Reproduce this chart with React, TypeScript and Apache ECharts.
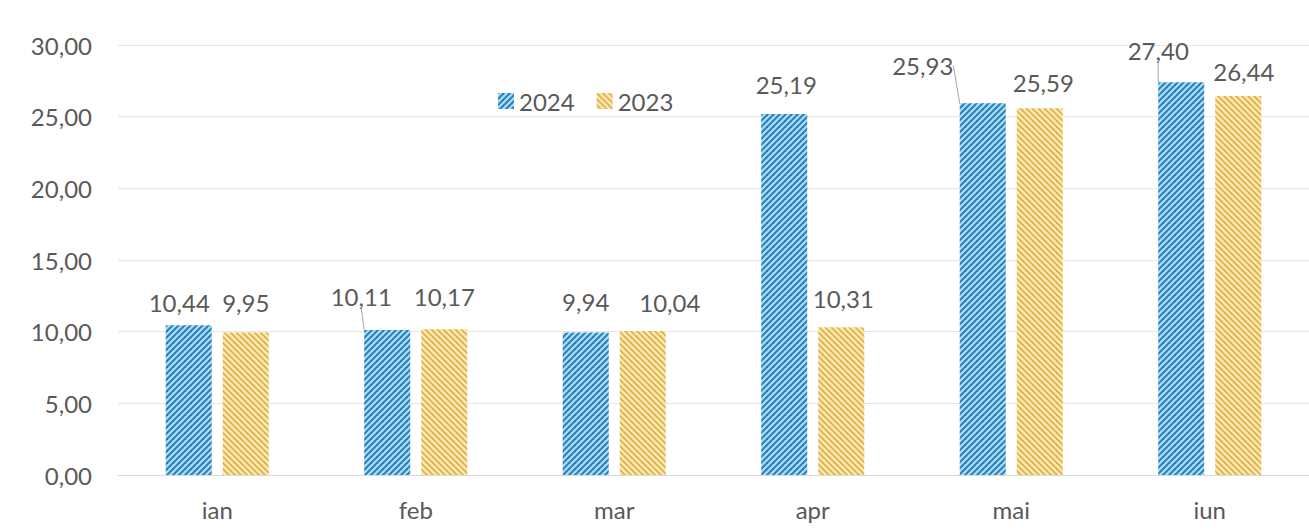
import React, { useEffect, useRef } from "react";
import * as echarts from "echarts";

const categories = ["ian", "feb", "mar", "apr", "mai", "iun"];
const seriesNames = ["2024", "2023"];
const values2024 = [10.44, 10.11, 9.94, 25.19, 25.93, 27.4];
const values2023 = [9.95, 10.17, 10.04, 10.31, 25.59, 26.44];
const leader2024 = [false, true, false, false, true, true];
const yTicks = { min: 0, max: 30, interval: 5 };

const labelShift2024 = [
  [-9.5, -6],
  [-26, -17],
  [0, -14],
  [2, -12],
  [-60, -21],
  [-23, -15],
];
const labelShift2023 = [
  [0, -13],
  [0, -16],
  [27, -12],
  [2, -12],
  [3.5, -9],
  [5.5, -8],
];

const FONT = "Lato";
const TEXT = "#595959";
const fmt = (v: number) => v.toFixed(2).replace(".", ",");

// hatch tile: up = "/" lines, down = "\" lines
function hatch(bg: string, fg: string, up: boolean) {
  const s = 6;
  const c = document.createElement("canvas");
  c.width = s;
  c.height = s;
  const g = c.getContext("2d")!;
  g.fillStyle = bg;
  g.fillRect(0, 0, s, s);
  g.strokeStyle = fg;
  g.lineWidth = 1.9;
  g.lineCap = "square";
  const segs = up
    ? [
        [0, s, s, 0],
        [-s / 2, s / 2, s / 2, -s / 2],
        [s / 2, s * 1.5, s * 1.5, s / 2],
      ]
    : [
        [0, 0, s, s],
        [-s / 2, s / 2, s / 2, s * 1.5],
        [s / 2, -s / 2, s * 1.5, s / 2],
      ];
  for (const [x1, y1, x2, y2] of segs) {
    g.beginPath();
    g.moveTo(x1, y1);
    g.lineTo(x2, y2);
    g.stroke();
  }
  return { image: c, repeat: "repeat", imageWidth: s, imageHeight: s } as any;
}

export default function App() {
  const ref = useRef<HTMLDivElement>(null);
  useEffect(() => {
    if (!ref.current) return;
    const chart = echarts.init(ref.current, null, { renderer: "svg" });
    const blueFill = hatch("#a2dbf5", "#2a78b4", true);
    const goldFill = hatch("#fbe9b3", "#e0b24c", false);
    const labelCommon = {
      show: true,
      position: "top" as const,
      distance: 5,
      fontFamily: FONT,
      fontSize: 24,
      color: TEXT,
      formatter: (p: any) => fmt(p.value),
    };
    chart.setOption({
      animation: false,
      backgroundColor: "#ffffff",
      textStyle: { fontFamily: FONT },
      legend: {
        data: seriesNames,
        left: 493,
        top: 84,
        icon: "rect",
        itemWidth: 16,
        itemHeight: 16,
        itemGap: 22,
        textStyle: { fontFamily: FONT, fontSize: 24, color: TEXT },
      },
      grid: { left: 118, top: 45, width: 1200, height: 430, containLabel: false },
      xAxis: {
        type: "category",
        data: categories,
        axisLine: { show: true, lineStyle: { color: "#d9d9d9", width: 1 } },
        axisTick: { show: false },
        axisLabel: { fontFamily: FONT, fontSize: 24, color: TEXT, margin: 22 },
      },
      yAxis: {
        type: "value",
        min: yTicks.min,
        max: yTicks.max,
        interval: yTicks.interval,
        axisLine: { show: false },
        axisTick: { show: false },
        splitLine: { lineStyle: { color: "#e6e6e6", width: 1 } },
        axisLabel: {
          fontFamily: FONT,
          fontSize: 24,
          color: TEXT,
          margin: 26,
          formatter: (v: number) => fmt(v),
        },
      },
      series: [
        {
          name: seriesNames[0],
          type: "bar",
          barWidth: 46,
          barGap: "24%",
          data: values2024.map((v, i) => ({
            value: v,
            labelLine: { show: leader2024[i] },
          })),
          itemStyle: { color: blueFill },
          label: labelCommon,
          labelLine: {
            show: false,
            lineStyle: { color: "#a6a6a6", width: 1 },
          },
          labelLayout: (p: any) => ({
            dx: labelShift2024[p.dataIndex][0],
            dy: labelShift2024[p.dataIndex][1],
          }),
        },
        {
          name: seriesNames[1],
          type: "bar",
          barWidth: 46,
          data: values2023,
          itemStyle: { color: goldFill },
          label: labelCommon,
          labelLayout: (p: any) => ({
            dx: labelShift2023[p.dataIndex][0],
            dy: labelShift2023[p.dataIndex][1],
          }),
        },
      ],
    });
    return () => chart.dispose();
  }, []);
  return (
    <div
      ref={ref}
      style={{ position: "fixed", left: 0, top: 0, width: 1309, height: 531 }}
    />
  );
}
